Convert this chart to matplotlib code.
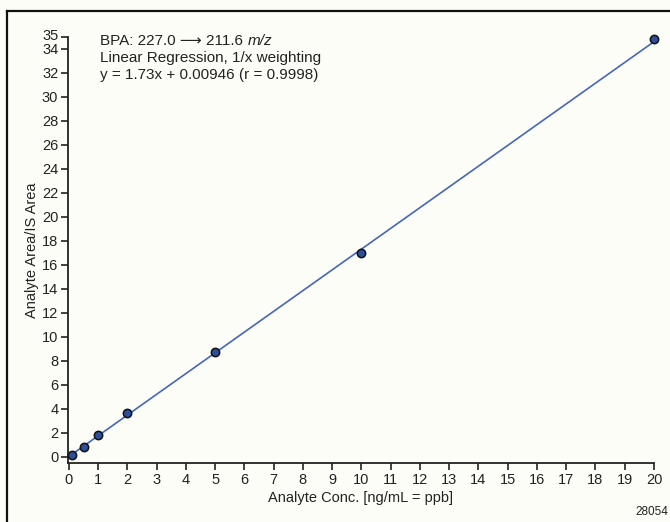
import matplotlib
matplotlib.use("Agg")
import matplotlib.pyplot as plt
from matplotlib.lines import Line2D
import matplotlib.transforms as mtransforms
import numpy as np

plt.rcParams['font.family'] = ['Liberation Sans', 'DejaVu Sans']

conc = [0.1, 0.5, 1, 2, 5, 10, 20]
ratio = [0.14, 0.79, 1.77, 3.6, 8.7, 17.0, 34.86]
slope = 1.73
intercept = 0.00946
xticks = list(range(0, 21))
yticks = list(range(0, 35, 2)) + [35]

W, H = 670, 522
bg = '#fdfdf8'
fig = plt.figure(figsize=(W / 100, H / 100), dpi=100, facecolor=bg)

left, right, top, bottom = 68, 654, 37, 463
ax = fig.add_axes([left / W, 1 - bottom / H, (right - left) / W, (bottom - top) / H])
ax.set_facecolor(bg)

xf = np.array([conc[0], conc[-1]])
ax.plot(xf, slope * xf + intercept, color='#4466c0', lw=1.2, zorder=2)
ax.plot(conc, ratio, 'o', ms=6, mfc='#2b4f9e', mec='#111111', mew=1.1, zorder=3, clip_on=False)

ax.set_xlim(-0.03, 20)
ax.set_ylim(-0.53, 35)
ax.set_xticks(xticks)
ax.set_yticks(yticks)
for s in ['top', 'right']:
    ax.spines[s].set_visible(False)
for s in ['left', 'bottom']:
    ax.spines[s].set_linewidth(1.3)
    ax.spines[s].set_color('#222222')
ax.tick_params(axis='both', direction='out', length=5, width=1.2, color='#222222',
               labelsize=10.5, labelcolor='#222222', pad=2)
ax.set_xlabel('Analyte Conc. [ng/mL = ppb]', fontsize=10.5, color='#222222', labelpad=3)
ax.set_ylabel('Analyte Area/IS Area', fontsize=10.5, color='#222222', labelpad=2)

# nudge the top "35" label upward slightly, as in the reference
for lab in ax.get_yticklabels():
    if lab.get_text() == '35':
        lab.set_transform(lab.get_transform() + mtransforms.ScaledTranslation(0, 3 / 100, fig.dpi_scale_trans))

x0 = 32 / (right - left)
y0 = 1 - (34 - top) / (bottom - top)
t1 = ax.text(x0, y0, 'BPA: 227.0 ⟶ 211.6 ', transform=ax.transAxes, ha='left', va='top',
             fontsize=11, color='#222222', family=['Liberation Sans', 'DejaVu Sans'])
ax.annotate('m/z', xy=(1, 0), xycoords=t1, ha='left', va='bottom', fontsize=11,
            style='italic', color='#222222')
ax.text(x0, y0 - 17 / (bottom - top), 'Linear Regression, 1/x weighting', transform=ax.transAxes,
        ha='left', va='top', fontsize=11, color='#222222')
ax.text(x0, y0 - 34 / (bottom - top), 'y = 1.73x + 0.00946 (r = 0.9998)', transform=ax.transAxes,
        ha='left', va='top', fontsize=11, color='#222222')

fig.text(668 / W, 1 - 512 / H, '28054', ha='right', va='center', fontsize=8.5, color='#222222')

fig.add_artist(Line2D([7 / W, 7 / W], [1 - 11 / H, 0], transform=fig.transFigure, color='#111111', lw=1.6))
fig.add_artist(Line2D([7 / W, 1], [1 - 11 / H, 1 - 11 / H], transform=fig.transFigure, color='#111111', lw=1.6))

fig.savefig('out.png', dpi=100, facecolor=bg)
